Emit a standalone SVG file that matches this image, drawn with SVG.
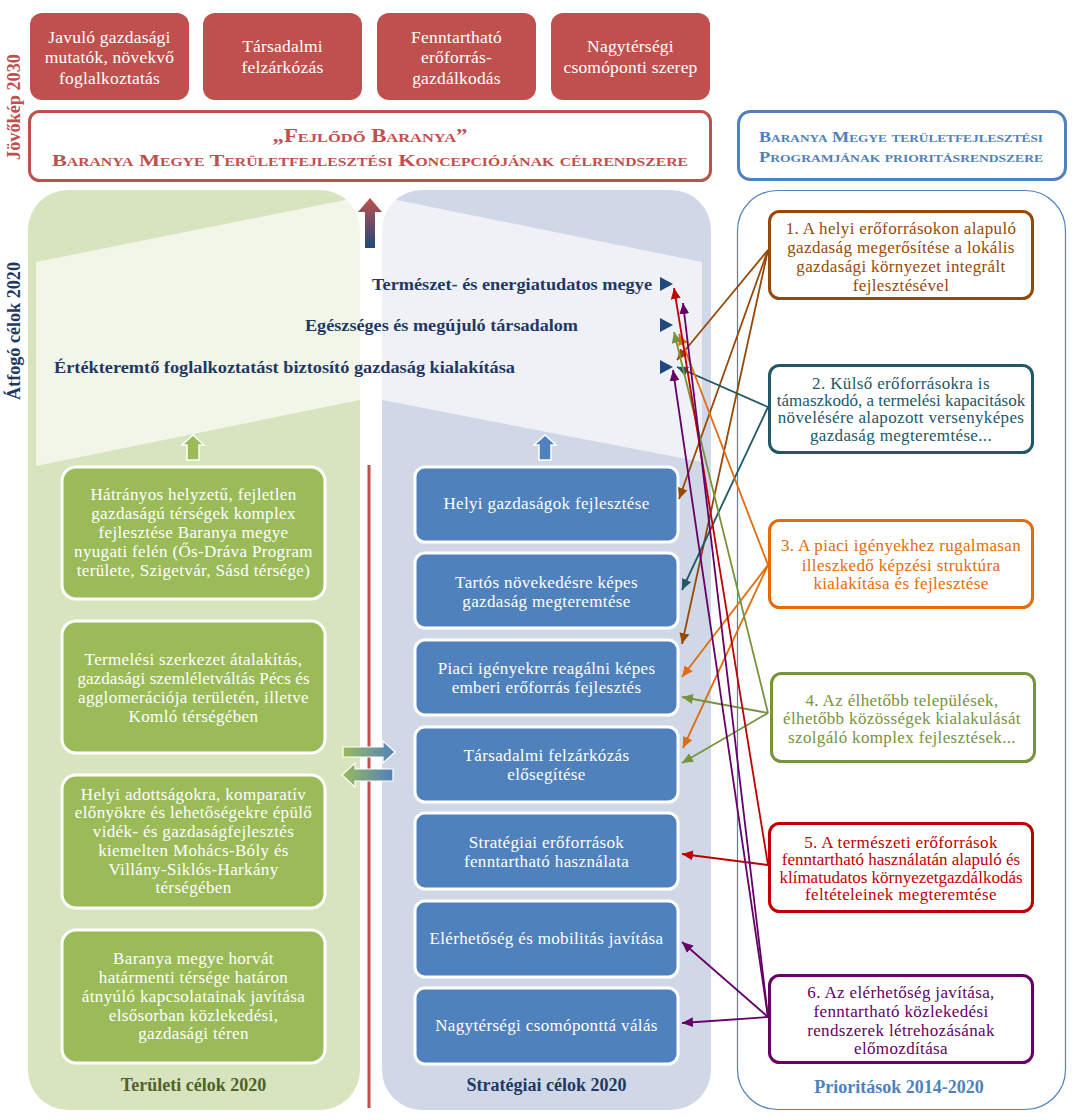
<svg xmlns="http://www.w3.org/2000/svg" width="1076" height="1120" viewBox="0 0 1076 1120">
<defs>
<style>
text{font-family:"Liberation Serif","Times New Roman",serif;}
.vbox{fill:#c0504d;}
.vt{fill:#fff;font-size:17.5px;text-anchor:middle;letter-spacing:0.2px;}
.gbox{fill:#9bbb59;stroke:#fff;stroke-width:3;}
.bbox{fill:#4f81bd;stroke:#fff;stroke-width:3;}
.wt{fill:#fff;font-size:17px;text-anchor:middle;letter-spacing:0.35px;}
.goal{fill:#1f3864;font-size:16px;font-weight:bold;}
.tri{fill:#1f497d;}
.pbox{fill:#fff;stroke-width:3;}
.pt{font-size:17px;text-anchor:middle;letter-spacing:0.35px;}
.lab{font-size:18px;font-weight:bold;text-anchor:middle;}
.c{stroke-width:1.8;fill:none;}
</style>
<linearGradient id="gUp" x1="0" y1="0" x2="0" y2="1"><stop offset="0" stop-color="#c0504d"/><stop offset="1" stop-color="#1f497d"/></linearGradient>
<linearGradient id="gLR" x1="0" y1="0" x2="1" y2="0"><stop offset="0" stop-color="#9bbb59"/><stop offset="1" stop-color="#4f81bd"/></linearGradient>
<marker id="mBr" markerUnits="userSpaceOnUse" markerWidth="12" markerHeight="10" refX="11" refY="5" orient="auto"><path d="M0,0 L11,5 L0,10 z" fill="#974806"/></marker>
<marker id="mTe" markerUnits="userSpaceOnUse" markerWidth="12" markerHeight="10" refX="11" refY="5" orient="auto"><path d="M0,0 L11,5 L0,10 z" fill="#215868"/></marker>
<marker id="mOr" markerUnits="userSpaceOnUse" markerWidth="12" markerHeight="10" refX="11" refY="5" orient="auto"><path d="M0,0 L11,5 L0,10 z" fill="#e36c0a"/></marker>
<marker id="mGr" markerUnits="userSpaceOnUse" markerWidth="12" markerHeight="10" refX="11" refY="5" orient="auto"><path d="M0,0 L11,5 L0,10 z" fill="#77933c"/></marker>
<marker id="mRe" markerUnits="userSpaceOnUse" markerWidth="12" markerHeight="10" refX="11" refY="5" orient="auto"><path d="M0,0 L11,5 L0,10 z" fill="#c00000"/></marker>
<marker id="mPu" markerUnits="userSpaceOnUse" markerWidth="12" markerHeight="10" refX="11" refY="5" orient="auto"><path d="M0,0 L11,5 L0,10 z" fill="#660066"/></marker>
</defs>
<rect width="1076" height="1120" fill="#fff"/>

<!-- side labels -->
<text transform="translate(20,107) rotate(-90)" fill="#c0504d" font-size="18" font-weight="bold" text-anchor="middle" textLength="106" lengthAdjust="spacingAndGlyphs">Jövőkép 2030</text>
<text transform="translate(20,331) rotate(-90)" fill="#1f3864" font-size="18" font-weight="bold" text-anchor="middle" textLength="138" lengthAdjust="spacingAndGlyphs">Átfogó célok 2020</text>

<!-- vision boxes -->
<g id="vision1"><rect class="vbox" x="30" y="13" width="159" height="87" rx="12"/>
<text class="vt" x="109.5" y="43">Javuló gazdasági</text><text class="vt" x="109.5" y="63">mutatók, növekvő</text><text class="vt" x="109.5" y="84">foglalkoztatás</text></g>
<g id="vision2"><rect class="vbox" x="203" y="13" width="159" height="87" rx="12"/>
<text class="vt" x="282.5" y="52">Társadalmi</text><text class="vt" x="282.5" y="73">felzárkózás</text></g>
<g id="vision3"><rect class="vbox" x="377" y="13" width="159" height="87" rx="12"/>
<text class="vt" x="456.5" y="43">Fenntartható</text><text class="vt" x="456.5" y="63">erőforrás-</text><text class="vt" x="456.5" y="84">gazdálkodás</text></g>
<g id="vision4"><rect class="vbox" x="551" y="13" width="159" height="87" rx="12"/>
<text class="vt" x="630.5" y="52">Nagytérségi</text><text class="vt" x="630.5" y="73">csomóponti szerep</text></g>

<!-- title -->
<g id="title"><rect x="29.5" y="111.5" width="681" height="69" rx="10" fill="#fff" stroke="#c0504d" stroke-width="3"/>
<text x="370" y="142" fill="#c0504d" font-size="18" font-weight="bold" text-anchor="middle" style="font-variant:small-caps" textLength="195" lengthAdjust="spacingAndGlyphs">„Fejlődő Baranya”</text>
<text x="370" y="166" fill="#c0504d" font-size="17" font-weight="bold" text-anchor="middle" style="font-variant:small-caps" textLength="636" lengthAdjust="spacingAndGlyphs">Baranya Megye Területfejlesztési Koncepciójának célrendszere</text></g>

<g id="prog-title"><rect x="738.5" y="111.5" width="327" height="68" rx="12" fill="#fff" stroke="#4f81bd" stroke-width="3"/>
<text x="901" y="142" fill="#4f81bd" font-size="15" font-weight="bold" text-anchor="middle" style="font-variant:small-caps" textLength="284" lengthAdjust="spacingAndGlyphs">Baranya Megye területfejlesztési</text>
<text x="901" y="162" fill="#4f81bd" font-size="15" font-weight="bold" text-anchor="middle" style="font-variant:small-caps" textLength="284" lengthAdjust="spacingAndGlyphs">Programjának prioritásrendszere</text></g>

<!-- panels -->
<rect x="28" y="190" width="332" height="920" rx="40" fill="#d7e4bd"/>
<rect x="382" y="190" width="329" height="920" rx="40" fill="#d0d8e8"/>
<rect x="737.5" y="190.5" width="328" height="919" rx="40" fill="none" stroke="#4f81bd" stroke-width="1.2"/>
<polygon points="36,262 360,197 382,197 702,262 702,462 382,400 360,400 36,466" fill="#fff" fill-opacity="0.65"/>

<!-- arrows decorative -->
<polygon points="370,198 382,212 375,212 375,248 365,248 365,212 358,212" fill="url(#gUp)"/>
<polygon points="193,435 204,445 199,445 199,460 187,460 187,445 182,445" fill="#9bbb59" stroke="#fff" stroke-width="1.5"/>
<polygon points="545,435 556,445 551,445 551,460 539,460 539,445 534,445" fill="#4f81bd" stroke="#fff" stroke-width="1.5"/>
<line x1="369" y1="465" x2="369" y2="1108" stroke="#c0504d" stroke-width="3"/>
<polygon points="343,747 383,747 383,741 395,752 383,763 383,757 343,757" fill="url(#gLR)" stroke="#fff" stroke-width="1.2"/>
<polygon points="393,769 355,769 355,763 342,775 355,787 355,781 393,781" fill="url(#gLR)" stroke="#fff" stroke-width="1.2"/>

<!-- goals -->
<g id="goal1"><text class="goal" x="652" y="290" text-anchor="end" textLength="280" lengthAdjust="spacingAndGlyphs">Természet- és energiatudatos megye</text><polygon class="tri" points="660,277 673,284 660,291"/></g>
<g id="goal2"><text class="goal" x="578" y="331" text-anchor="end" textLength="273" lengthAdjust="spacingAndGlyphs">Egészséges és megújuló társadalom</text><polygon class="tri" points="660,318 673,325 660,332"/></g>
<g id="goal3"><text class="goal" x="54" y="373" textLength="461" lengthAdjust="spacingAndGlyphs">Értékteremtő foglalkoztatást biztosító gazdaság kialakítása</text><polygon class="tri" points="660,360 673,367 660,374"/></g>

<!-- territorial goals -->
<g id="t1"><rect class="gbox" x="62" y="467" width="263" height="132" rx="14"/>
<text class="wt" x="193.5" y="500">Hátrányos helyzetű, fejletlen</text><text class="wt" x="193.5" y="519">gazdaságú térségek komplex</text><text class="wt" x="193.5" y="538">fejlesztése Baranya megye</text><text class="wt" x="193.5" y="557">nyugati felén (Ős-Dráva Program</text><text class="wt" x="193.5" y="576">területe, Szigetvár, Sásd térsége)</text></g>
<g id="t2"><rect class="gbox" x="62" y="621" width="263" height="132" rx="14"/>
<text class="wt" x="193.5" y="665">Termelési szerkezet átalakítás,</text><text class="wt" x="193.5" y="684" style="letter-spacing:0.1px">gazdasági szemléletváltás Pécs és</text><text class="wt" x="193.5" y="703">agglomerációja területén, illetve</text><text class="wt" x="193.5" y="722">Komló térségében</text></g>
<g id="t3"><rect class="gbox" x="62" y="775" width="263" height="133" rx="14"/>
<text class="wt" x="193.5" y="800">Helyi adottságokra, komparatív</text><text class="wt" x="193.5" y="818">előnyökre és lehetőségekre épülő</text><text class="wt" x="193.5" y="837">vidék- és gazdaságfejlesztés</text><text class="wt" x="193.5" y="856">kiemelten Mohács-Bóly és</text><text class="wt" x="193.5" y="875">Villány-Siklós-Harkány</text><text class="wt" x="193.5" y="893">térségében</text></g>
<g id="t4"><rect class="gbox" x="62" y="930" width="263" height="133" rx="14"/>
<text class="wt" x="193.5" y="964">Baranya megye horvát</text><text class="wt" x="193.5" y="983">határmenti térsége határon</text><text class="wt" x="193.5" y="1002">átnyúló kapcsolatainak javítása</text><text class="wt" x="193.5" y="1021">elsősorban közlekedési,</text><text class="wt" x="193.5" y="1039">gazdasági téren</text></g>
<text class="lab" x="193.5" y="1091" fill="#4f6228">Területi célok 2020</text>

<!-- strategic goals -->
<g id="s1"><rect class="bbox" x="415" y="467" width="263" height="75" rx="10"/><text class="wt" x="546.5" y="509">Helyi gazdaságok fejlesztése</text></g>
<g id="s2"><rect class="bbox" x="415" y="553" width="263" height="75" rx="10"/><text class="wt" x="546.5" y="588">Tartós növekedésre képes</text><text class="wt" x="546.5" y="607">gazdaság megteremtése</text></g>
<g id="s3"><rect class="bbox" x="415" y="640" width="263" height="75" rx="10"/><text class="wt" x="546.5" y="674">Piaci igényekre reagálni képes</text><text class="wt" x="546.5" y="693">emberi erőforrás fejlesztés</text></g>
<g id="s4"><rect class="bbox" x="415" y="727" width="263" height="75" rx="10"/><text class="wt" x="546.5" y="761">Társadalmi felzárkózás</text><text class="wt" x="546.5" y="780">elősegítése</text></g>
<g id="s5"><rect class="bbox" x="415" y="813" width="263" height="76" rx="10"/><text class="wt" x="546.5" y="848">Stratégiai erőforrások</text><text class="wt" x="546.5" y="867">fenntartható használata</text></g>
<g id="s6"><rect class="bbox" x="415" y="901" width="263" height="76" rx="10"/><text class="wt" x="546.5" y="944">Elérhetőség és mobilitás javítása</text></g>
<g id="s7"><rect class="bbox" x="415" y="988" width="263" height="76" rx="10"/><text class="wt" x="546.5" y="1031">Nagytérségi csomóponttá válás</text></g>
<text class="lab" x="546.5" y="1091" fill="#1f3864">Stratégiai célok 2020</text>

<!-- priorities -->
<g id="p1"><rect class="pbox" x="769.5" y="211.5" width="263" height="87" rx="10" stroke="#974806"/>
<g class="pt" fill="#984807"><text x="901" y="234">1. A helyi erőforrásokon alapuló</text><text x="901" y="253">gazdaság megerősítése a lokális</text><text x="901" y="272">gazdasági környezet integrált</text><text x="901" y="291">fejlesztésével</text></g></g>
<g id="p2"><rect class="pbox" x="769.5" y="365.5" width="263" height="87" rx="10" stroke="#215868"/>
<g class="pt" fill="#215868"><text x="901" y="389">2. Külső erőforrásokra is</text><text x="901" y="406" style="letter-spacing:0">támaszkodó, a termelési kapacitások</text><text x="901" y="423">növelésére alapozott versenyképes</text><text x="901" y="441">gazdaság megteremtése...</text></g></g>
<g id="p3"><rect class="pbox" x="769.5" y="520.5" width="263" height="87" rx="10" stroke="#e36c0a"/>
<g class="pt" fill="#e36c0a"><text x="901" y="551">3. A piaci igényekhez rugalmasan</text><text x="901" y="571">illeszkedő képzési struktúra</text><text x="901" y="589">kialakítása és fejlesztése</text></g></g>
<g id="p4"><rect class="pbox" x="771.5" y="673.5" width="263" height="88" rx="10" stroke="#77933c"/>
<g class="pt" fill="#77933c"><text x="902" y="706">4. Az élhetőbb települések,</text><text x="902" y="724">élhetőbb közösségek kialakulását</text><text x="902" y="743">szolgáló komplex fejlesztések...</text></g></g>
<g id="p5"><rect class="pbox" x="769.5" y="823.5" width="263" height="88" rx="10" stroke="#c00000"/>
<g class="pt" fill="#c00000"><text x="901" y="848">5. A természeti erőforrások</text><text x="901" y="865" style="letter-spacing:0">fenntartható használatán alapuló és</text><text x="901" y="883" style="letter-spacing:0">klímatudatos környezetgazdálkodás</text><text x="901" y="900">feltételeinek megteremtése</text></g></g>
<g id="p6"><rect class="pbox" x="769.5" y="975.5" width="263" height="87" rx="10" stroke="#660066"/>
<g class="pt" fill="#660066"><text x="901" y="998">6. Az elérhetőség javítása,</text><text x="901" y="1017">fenntartható közlekedési</text><text x="901" y="1036">rendszerek létrehozásának</text><text x="901" y="1054">előmozdítása</text></g></g>
<text class="lab" x="899" y="1093" fill="#4f81bd">Prioritások 2014-2020</text>

<!-- connectors -->
<g id="connectors">
<g stroke="#974806" class="c" marker-end="url(#mBr)">
<line x1="768" y1="250" x2="677" y2="360"/>
<line x1="768" y1="250" x2="679" y2="499"/>
<line x1="768" y1="250" x2="682" y2="644"/>
</g>
<g stroke="#215868" class="c" marker-end="url(#mTe)">
<line x1="768" y1="407" x2="677" y2="367"/>
<line x1="768" y1="407" x2="682" y2="590"/>
</g>
<g stroke="#e36c0a" class="c" marker-end="url(#mOr)">
<line x1="768" y1="565" x2="679" y2="334"/>
<line x1="768" y1="565" x2="682" y2="677"/>
<line x1="768" y1="565" x2="683" y2="748"/>
</g>
<g stroke="#77933c" class="c" marker-end="url(#mGr)">
<line x1="768" y1="713" x2="674" y2="332"/>
<line x1="768" y1="713" x2="682" y2="697"/>
<line x1="768" y1="713" x2="682" y2="763"/>
</g>
<g stroke="#c00000" class="c" marker-end="url(#mRe)">
<line x1="768" y1="865" x2="674" y2="288"/>
<line x1="768" y1="865" x2="682" y2="854"/>
</g>
<g stroke="#660066" class="c" marker-end="url(#mPu)">
<line x1="768" y1="1017" x2="683" y2="303"/>
<line x1="768" y1="1017" x2="673" y2="370"/>
<line x1="768" y1="1017" x2="682" y2="942"/>
<line x1="768" y1="1017" x2="682" y2="1023"/>
</g>
</g>
</svg>
